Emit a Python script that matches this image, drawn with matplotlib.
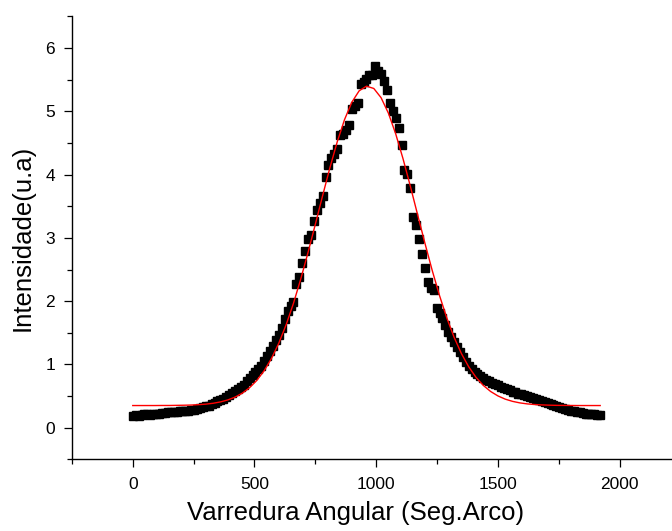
import numpy as np
import matplotlib
matplotlib.use('Agg')
import matplotlib.pyplot as plt
from matplotlib.ticker import MultipleLocator

plt.rcParams['font.family'] = ['Liberation Sans', 'DejaVu Sans']

# medida: varredura angular com passo de 12 seg. de arco
passo_medida = 12
intensidade = [
    0.19, 0.20, 0.19, 0.20, 0.21, 0.21, 0.20, 0.22, 0.22, 0.22,
    0.23, 0.23, 0.24, 0.24, 0.25, 0.25, 0.26, 0.26, 0.27, 0.27,
    0.28, 0.28, 0.29, 0.31, 0.32, 0.34, 0.35, 0.37, 0.39, 0.42,
    0.44, 0.46, 0.49, 0.52, 0.55, 0.58, 0.61, 0.64, 0.68, 0.73,
    0.78, 0.83, 0.88, 0.93, 0.98, 1.05, 1.13, 1.21, 1.29, 1.38,
    1.46, 1.58, 1.72, 1.84, 1.93, 1.99, 2.27, 2.38, 2.60, 2.80,
    2.99, 3.05, 3.26, 3.44, 3.55, 3.66, 3.96, 4.15, 4.26, 4.33,
    4.41, 4.62, 4.65, 4.70, 4.79, 5.03, 5.08, 5.14, 5.43, 5.47,
    5.51, 5.57, 5.58, 5.72, 5.64, 5.59, 5.48, 5.33, 5.14, 5.01,
    4.90, 4.73, 4.47, 4.08, 4.01, 3.79, 3.33, 3.21, 2.99, 2.75,
    2.53, 2.31, 2.21, 2.17, 1.89, 1.81, 1.73, 1.62, 1.52, 1.43,
    1.35, 1.27, 1.19, 1.11, 1.04, 0.98, 0.93, 0.88, 0.85, 0.82,
    0.79, 0.76, 0.74, 0.71, 0.69, 0.67, 0.65, 0.63, 0.61, 0.59,
    0.57, 0.56, 0.54, 0.53, 0.51, 0.50, 0.49, 0.47, 0.46, 0.44,
    0.42, 0.41, 0.39, 0.38, 0.36, 0.34, 0.33, 0.31, 0.29, 0.28,
    0.27, 0.26, 0.25, 0.24, 0.23, 0.22, 0.22, 0.21, 0.21, 0.20,
    0.20,
]
angulo = np.arange(len(intensidade)) * passo_medida

# curva do ajuste, lida a cada 30 seg. de arco
passo_ajuste = 30
ajuste = [
    0.350, 0.350, 0.350, 0.350, 0.351, 0.351, 0.353, 0.355, 0.358, 0.364,
    0.372, 0.386, 0.407, 0.438, 0.483, 0.546, 0.633, 0.749, 0.902, 1.096,
    1.337, 1.627, 1.965, 2.349, 2.770, 3.216, 3.670, 4.112, 4.520, 4.871,
    5.145, 5.325, 5.398, 5.362, 5.216, 4.972, 4.645, 4.253, 3.820, 3.367,
    2.917, 2.486, 2.089, 1.734, 1.428, 1.171, 0.962, 0.796, 0.668, 0.572,
    0.502, 0.451, 0.416, 0.392, 0.376, 0.366, 0.360, 0.356, 0.353, 0.352,
    0.351, 0.350, 0.350, 0.350, 0.350,
]
angulo_ajuste = np.arange(len(ajuste)) * passo_ajuste

fig = plt.figure(figsize=(6.72, 5.31), dpi=100)
ax = fig.add_axes([0.107, 0.135, 0.893, 0.834])

ax.plot(angulo, intensidade, linestyle='none', marker='s', markersize=5.8,
        color='black')
ax.plot(angulo_ajuste, ajuste, color='red', linewidth=1.0)

ax.set_xlim(-250, 2215)
ax.set_ylim(-0.5, 6.5)
ax.xaxis.set_major_locator(MultipleLocator(500))
ax.xaxis.set_minor_locator(MultipleLocator(250))
ax.yaxis.set_major_locator(MultipleLocator(1))
ax.yaxis.set_minor_locator(MultipleLocator(0.5))

for lado in ['top', 'right']:
    ax.spines[lado].set_visible(False)
for lado in ['left', 'bottom']:
    ax.spines[lado].set_linewidth(1.0)

ax.tick_params(which='major', direction='out', length=6, width=0.9,
               labelsize=12.5)
ax.tick_params(axis='x', which='major', pad=7)
ax.tick_params(axis='y', which='major', pad=6)
ax.tick_params(which='minor', direction='out', length=3.5, width=0.9)

ax.set_xlabel('Varredura Angular (Seg.Arco)', fontsize=18.5)
ax.set_ylabel('Intensidade(u.a)', fontsize=18.5, labelpad=8)
# título do eixo x um pouco à esquerda do centro do quadro
ax.xaxis.set_label_coords(0.472, -0.095)

fig.savefig('out.png', dpi=100)
